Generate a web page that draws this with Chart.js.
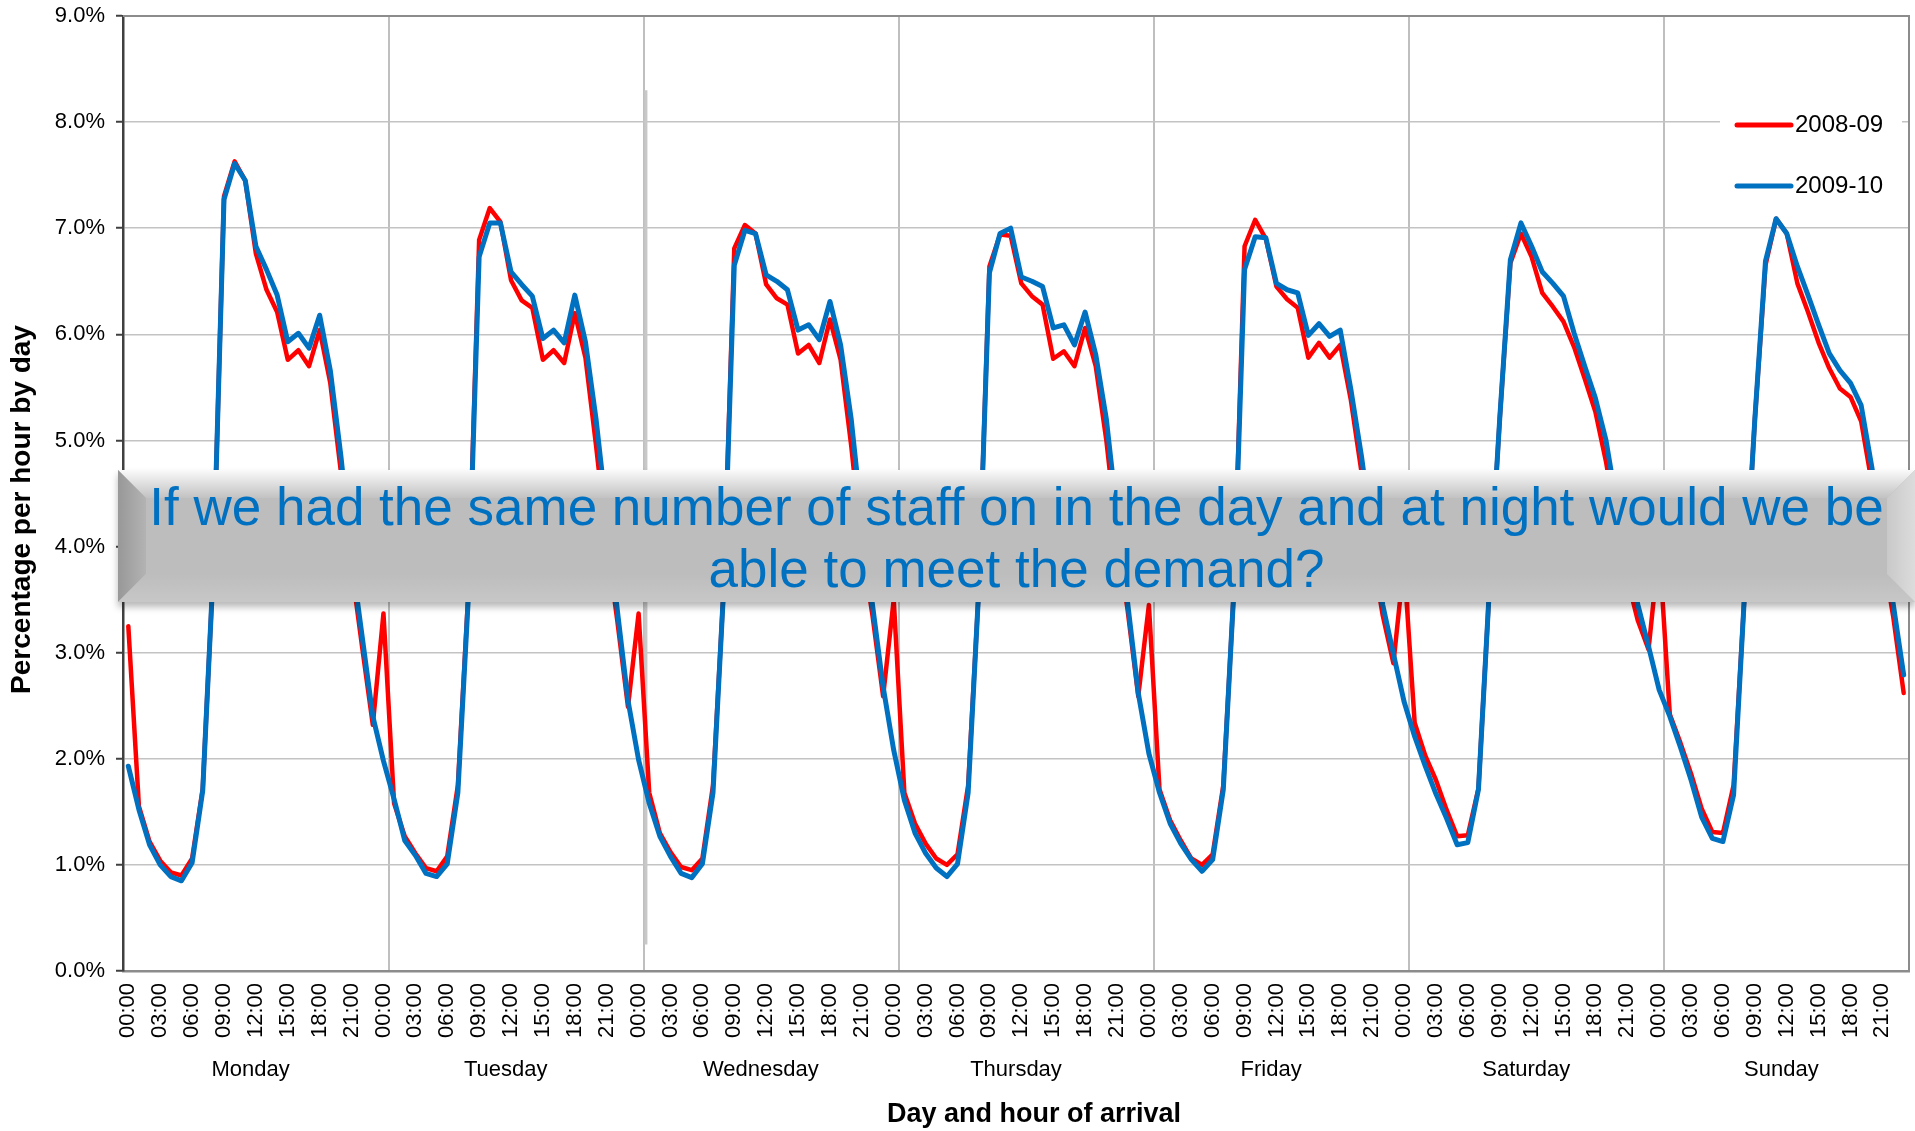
<!DOCTYPE html>
<html lang="en">

<head>
    <meta charset="UTF-8" />
    <title>Percentage per hour by day - arrivals</title>
    <script src="https://cdn.jsdelivr.net/npm/chart.js"></script>
    <style>
        body { margin: 0; background: #fff; }
        #wrap { position: relative; width: 1915px; height: 1131px; }
        #banner {
            position: absolute; left: 118px; top: 470px; width: 1797px; height: 132px;
            background: #bdbdbd;
            box-shadow: 0 5px 7px rgba(0, 0, 0, 0.28);
            font-family: "Liberation Sans", Arial, sans-serif;
            font-size: 53px; line-height: 62px; color: #0070c0; text-align: center;
        }
        .bevel { position: absolute; }
        .b-top { left: 0; top: 0; width: 100%; height: 28px;
            clip-path: polygon(0 0, 100% 0, calc(100% - 28px) 100%, 28px 100%);
            background: linear-gradient(#fafafa, #c2c2c2); }
        .b-left { left: 0; top: 0; width: 28px; height: 100%;
            clip-path: polygon(0 0, 100% 28px, 100% calc(100% - 28px), 0 100%);
            background: linear-gradient(90deg, #989898, #b3b3b3); }
        .b-bottom { left: 0; bottom: 0; width: 100%; height: 28px;
            clip-path: polygon(28px 0, calc(100% - 28px) 0, 100% 100%, 0 100%);
            background: linear-gradient(#bdbdbd, #c7c7c7); }
        .b-right { right: 0; top: 0; width: 28px; height: 100%;
            clip-path: polygon(0 28px, 100% 0, 100% 100%, 0 calc(100% - 28px));
            background: linear-gradient(90deg, #c9c9c9, #dcdcdc); }
        .txt { position: relative; padding-top: 6px; }
    </style>
</head>

<body>
    <div id="wrap">
        <canvas id="grafica"></canvas>
        <div id="banner">
            <div class="bevel b-top"></div>
            <div class="bevel b-left"></div>
            <div class="bevel b-bottom"></div>
            <div class="bevel b-right"></div>
            <div class="txt">If we had the same number of staff on in the day and at night would we be<br>able to meet the demand?</div>
        </div>
    </div>

    <script>
        const days = ["Monday", "Tuesday", "Wednesday", "Thursday", "Friday", "Saturday", "Sunday"];
        const hours = ["00:00", "01:00", "02:00", "03:00", "04:00", "05:00", "06:00", "07:00",
            "08:00", "09:00", "10:00", "11:00", "12:00", "13:00", "14:00", "15:00",
            "16:00", "17:00", "18:00", "19:00", "20:00", "21:00", "22:00", "23:00"];

        // % of the day's arrivals in each hour, Monday 00:00 .. Sunday 23:00
        const serie0809 = [
            3.25, 1.55, 1.22, 1.04, 0.93, 0.90, 1.06, 1.72, 3.80, 7.30, 7.63, 7.45, 6.76, 6.42, 6.21, 5.76, 5.85, 5.70, 6.04, 5.54, 4.70, 3.80, 3.05, 2.32,
            3.37, 1.58, 1.27, 1.11, 0.97, 0.94, 1.08, 1.75, 3.60, 6.89, 7.19, 7.06, 6.51, 6.32, 6.25, 5.76, 5.85, 5.73, 6.20, 5.78, 4.95, 4.05, 3.30, 2.49,
            3.37, 1.68, 1.30, 1.12, 0.98, 0.95, 1.06, 1.75, 3.60, 6.81, 7.03, 6.95, 6.47, 6.34, 6.28, 5.82, 5.90, 5.73, 6.14, 5.76, 4.95, 4.00, 3.35, 2.59,
            3.50, 1.68, 1.39, 1.20, 1.06, 1.00, 1.10, 1.75, 3.60, 6.64, 6.94, 6.93, 6.48, 6.36, 6.28, 5.77, 5.84, 5.70, 6.06, 5.70, 5.00, 4.10, 3.40, 2.59,
            3.45, 1.71, 1.42, 1.23, 1.06, 1.00, 1.10, 1.75, 3.60, 6.83, 7.08, 6.90, 6.45, 6.33, 6.25, 5.78, 5.92, 5.78, 5.90, 5.38, 4.70, 3.95, 3.35, 2.90,
            3.85, 2.34, 2.03, 1.80, 1.52, 1.27, 1.28, 1.72, 3.55, 5.20, 6.67, 6.95, 6.73, 6.39, 6.26, 6.12, 5.88, 5.58, 5.27, 4.80, 4.20, 3.70, 3.30, 3.03,
            4.00, 2.42, 2.15, 1.86, 1.53, 1.31, 1.30, 1.75, 3.50, 5.20, 6.65, 7.09, 6.95, 6.48, 6.21, 5.92, 5.68, 5.49, 5.41, 5.18, 4.60, 3.95, 3.35, 2.62
        ];
        const serie0910 = [
            1.93, 1.52, 1.19, 1.00, 0.89, 0.85, 1.02, 1.70, 3.80, 7.27, 7.61, 7.45, 6.83, 6.61, 6.37, 5.93, 6.01, 5.87, 6.18, 5.66, 4.85, 3.90, 3.15, 2.40,
            1.98, 1.62, 1.23, 1.09, 0.92, 0.89, 1.01, 1.68, 3.55, 6.73, 7.05, 7.05, 6.59, 6.47, 6.36, 5.96, 6.04, 5.92, 6.37, 5.93, 5.20, 4.30, 3.40, 2.55,
            1.99, 1.58, 1.27, 1.08, 0.92, 0.88, 1.01, 1.68, 3.60, 6.65, 6.98, 6.95, 6.56, 6.50, 6.42, 6.04, 6.09, 5.95, 6.31, 5.90, 5.20, 4.25, 3.45, 2.68,
            2.08, 1.61, 1.30, 1.11, 0.97, 0.89, 1.01, 1.68, 3.60, 6.58, 6.95, 7.00, 6.54, 6.50, 6.45, 6.06, 6.09, 5.90, 6.21, 5.81, 5.20, 4.30, 3.47, 2.62,
            2.05, 1.68, 1.39, 1.20, 1.05, 0.94, 1.05, 1.71, 3.60, 6.61, 6.92, 6.91, 6.48, 6.42, 6.39, 5.99, 6.10, 5.98, 6.04, 5.48, 4.85, 4.10, 3.45, 2.99,
            2.54, 2.21, 1.93, 1.67, 1.44, 1.19, 1.21, 1.71, 3.55, 5.20, 6.70, 7.05, 6.83, 6.59, 6.48, 6.36, 6.01, 5.70, 5.40, 5.00, 4.40, 3.90, 3.45, 3.06,
            2.65, 2.40, 2.11, 1.80, 1.45, 1.25, 1.22, 1.66, 3.50, 5.20, 6.69, 7.09, 6.95, 6.64, 6.37, 6.09, 5.82, 5.66, 5.54, 5.33, 4.75, 4.10, 3.47, 2.79
        ];

        const labels = days.flatMap(() => hours);
        const fuente = "'Liberation Sans', Arial, sans-serif";

        // keep Chart.js from adding label overflow padding around the plot
        function sinPadding(s) {
            s.paddingLeft = 0;
            s.paddingRight = 0;
            s.paddingTop = 0;
            s.paddingBottom = 0;
        }

        // borders, legend, day names and axis titles
        const decor = {
            id: "decor",
            beforeDatasetsDraw(chart) {
                const { ctx, chartArea: a, scales: { x, y } } = chart;
                ctx.save();
                ctx.strokeStyle = "#8c8c8c";
                ctx.lineWidth = 2;
                ctx.beginPath();
                ctx.moveTo(a.left, a.top);
                ctx.lineTo(a.right, a.top);
                ctx.lineTo(a.right, a.bottom);
                ctx.stroke();
                // stray thicker strip beside the Wednesday line
                const xw = (x.getPixelForValue(48) + x.getPixelForValue(49)) / 2 + 2;
                ctx.strokeStyle = "#c8c8c8";
                ctx.lineWidth = 3;
                ctx.beginPath();
                ctx.moveTo(xw, y.getPixelForValue(8.3));
                ctx.lineTo(xw, y.getPixelForValue(0.25));
                ctx.stroke();
                ctx.restore();
            },
            afterDatasetsDraw(chart) {
                const { ctx, chartArea: a, scales: { x } } = chart;
                ctx.save();
                // legend
                ctx.fillStyle = "#fff";
                ctx.fillRect(a.right - 189, a.top + 76, 182, 114);
                chart.data.datasets.forEach((ds, i) => {
                    const ly = a.top + 109 + i * 61;
                    ctx.strokeStyle = ds.borderColor;
                    ctx.lineWidth = 5;
                    ctx.lineCap = "round";
                    ctx.beginPath();
                    ctx.moveTo(a.right - 172, ly);
                    ctx.lineTo(a.right - 118, ly);
                    ctx.stroke();
                    ctx.fillStyle = "#000";
                    ctx.font = "24px " + fuente;
                    ctx.textAlign = "left";
                    ctx.textBaseline = "middle";
                    ctx.fillText(ds.label, a.right - 114, ly);
                });
                // day names under the hour labels
                ctx.fillStyle = "#000";
                ctx.textAlign = "center";
                ctx.font = "22px " + fuente;
                days.forEach((d, i) => {
                    const cx = (x.getPixelForValue(i * 24) + x.getPixelForValue(i * 24 + 23)) / 2;
                    ctx.fillText(d, cx, a.bottom + 99);
                });
                // axis titles
                ctx.font = "bold 27px " + fuente;
                ctx.fillText("Day and hour of arrival", (a.left + a.right) / 2 + 18, a.bottom + 144);
                ctx.translate(22, (a.top + a.bottom) / 2 + 16);
                ctx.rotate(-Math.PI / 2);
                ctx.font = "bold 28px " + fuente;
                ctx.fillText("Percentage per hour by day", 0, 0);
                ctx.restore();
            }
        };

        new Chart(document.getElementById("grafica"), {
            type: "line",
            data: {
                labels,
                datasets: [
                    { label: "2008-09", data: serie0809, borderColor: "#ff0000", borderWidth: 4.5, order: 2 },
                    { label: "2009-10", data: serie0910, borderColor: "#0070c0", borderWidth: 5, order: 1 }
                ]
            },
            options: {
                responsive: true,
                maintainAspectRatio: false,
                animation: false,
                devicePixelRatio: 1,
                layout: { padding: { top: 16, right: 6, left: 0, bottom: 0 } },
                elements: {
                    point: { radius: 0 },
                    line: { tension: 0, borderJoinStyle: "round", borderCapStyle: "round" }
                },
                plugins: { legend: { display: false }, tooltip: { enabled: false } },
                scales: {
                    x: {
                        offset: true,
                        grid: {
                            offset: true,
                            drawTicks: false,
                            lineWidth: 2,
                            color: c => (c.index % 24 === 1 && c.index > 1) ? "#bfbfbf" : "rgba(0,0,0,0)"
                        },
                        border: { color: "#8c8c8c", width: 2.5 },
                        ticks: {
                            autoSkip: false,
                            minRotation: 90,
                            maxRotation: 90,
                            padding: 12,
                            color: "#000",
                            font: { family: fuente, size: 22 },
                            callback: (v, i) => i % 3 === 0 ? labels[i] : ""
                        },
                        afterFit: s => { s.height = 160; sinPadding(s); }
                    },
                    y: {
                        min: 0,
                        max: 9,
                        ticks: {
                            stepSize: 1,
                            padding: 11,
                            color: "#000",
                            font: { family: fuente, size: 22 },
                            callback: v => v.toFixed(1) + "%"
                        },
                        grid: { color: "#c3c3c3", lineWidth: 1.5, tickLength: 7, tickColor: "#404040", tickWidth: 2 },
                        border: { color: "#404040", width: 2.5 },
                        afterFit: s => { s.width = 123; sinPadding(s); }
                    }
                }
            },
            plugins: [decor]
        });
    </script>
</body>

</html>
